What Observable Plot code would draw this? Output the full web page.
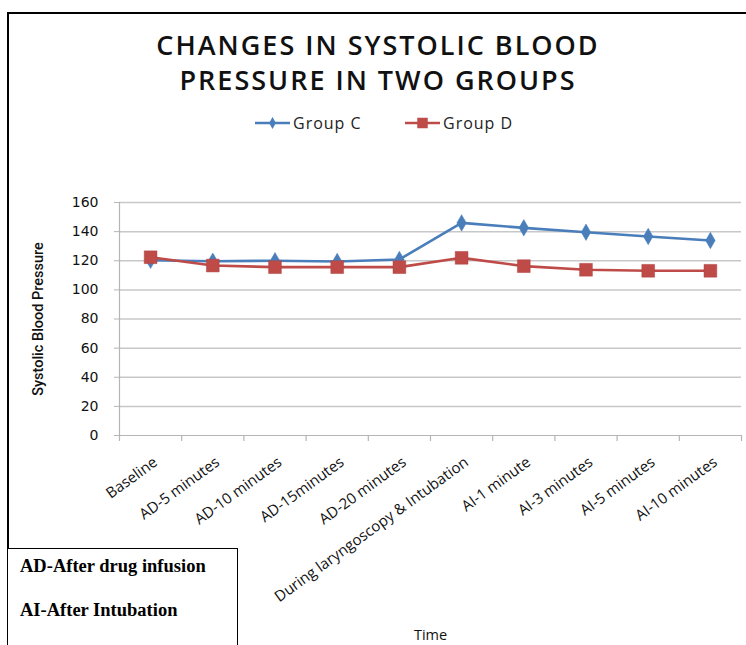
<!DOCTYPE html>
<html>
<head>
<meta charset="utf-8">
<script src="https://cdn.jsdelivr.net/npm/d3@7"></script>
<script src="https://cdn.jsdelivr.net/npm/@observablehq/plot@0.6"></script>
<style>
  html, body { margin: 0; padding: 0; background: #fff; }
  #wrap { position: relative; width: 746px; height: 645px; overflow: hidden; }
  #frame { position: absolute; left: 7px; top: 12px; width: 760px; height: 700px; border: 2px solid #000; box-sizing: border-box; }
  #title { position: absolute; left: 0; width: 756px; top: 27px; text-align: center; font-family: "Open Sans", sans-serif; font-weight: 600; font-size: 27px; line-height: 35px; color: #111; letter-spacing: 2px; }
  #legend { position: absolute; left: 0; top: 112px; width: 746px; }
  #plot { position: absolute; left: 0; top: 0; }
  #note { position: absolute; left: 7px; top: 548px; width: 231px; height: 110px; border: 1.5px solid #000; box-sizing: border-box; background: #fff; font-family: "Liberation Serif", "Times New Roman", serif; font-weight: bold; font-size: 18.5px; color: #000; }
  #note div { position: absolute; left: 12px; white-space: nowrap; }
</style>
</head>
<body>
<div id="wrap">
  <div id="plot"></div>
  <div id="frame"></div>
  <div id="title"><div>CHANGES IN SYSTOLIC BLOOD</div><div>PRESSURE IN TWO GROUPS</div></div>
  <svg id="legend" width="746" height="24"></svg>
  <div id="note"><div style="top:7px">AD-After drug infusion</div><div style="top:51px">AI-After Intubation</div></div>
</div>
<script>
const categories = ["Baseline", "AD-5 minutes", "AD-10 minutes", "AD-15minutes", "AD-20 minutes",
  "During laryngoscopy & Intubation", "AI-1 minute", "AI-3 minutes", "AI-5 minutes", "AI-10 minutes"];
const groupC = [120.3, 119.7, 120.0, 119.5, 120.9, 146.0, 142.6, 139.6, 136.7, 133.9];
const groupD = [122.4, 116.7, 115.6, 115.6, 115.6, 122.0, 116.3, 113.8, 113.1, 113.1];
const yTicks = [0, 20, 40, 60, 80, 100, 120, 140, 160];
const seriesNames = ["Group C", "Group D"];
const colors = ["#4A7EBB", "#BE4B48"];

const rows = [];
categories.forEach((c, i) => {
  rows.push({series: seriesNames[0], i: i + 0.5, v: groupC[i]});
  rows.push({series: seriesNames[1], i: i + 0.5, v: groupD[i]});
});
const cRows = rows.filter(d => d.series === seriesNames[0]);
const dRows = rows.filter(d => d.series === seriesNames[1]);
const catPos = categories.map((c, i) => ({c, i: i + 0.5, y0: 0}));

const tickFont = "'DejaVu Sans', sans-serif";

const chart = Plot.plot({
  width: 746,
  height: 645,
  marginTop: 202,
  marginBottom: 210,
  marginLeft: 119,
  marginRight: 5,
  x: {domain: [0, categories.length], axis: null},
  y: {domain: [0, 160], axis: null},
  marks: [
    Plot.ruleY(yTicks.filter(t => t > 0), {stroke: "#c8c8c8", strokeWidth: 1.5}),
    Plot.ruleY([0], {stroke: "#b5b5b5", strokeWidth: 1.2}),
    Plot.ruleX([0], {stroke: "#b5b5b5", strokeWidth: 1.2}),
    Plot.axisX(d3.range(categories.length + 1), {tickSize: 6, tickFormat: () => "", stroke: "#b5b5b5", strokeWidth: 1.2, label: null}),
    Plot.axisY(yTicks, {tickSize: 5, tickPadding: 16, stroke: "#b5b5b5", fontSize: 14, fontFamily: tickFont, fill: "#111", letterSpacing: 2.6, label: null}),
    Plot.line(cRows, {x: "i", y: "v", stroke: colors[0], strokeWidth: 2.6}),
    Plot.line(dRows, {x: "i", y: "v", stroke: colors[1], strokeWidth: 2.6}),
    Plot.dot(cRows, {x: "i", y: "v", symbol: "diamond", r: 5, fill: colors[0], stroke: colors[0], strokeWidth: 0.5}),
    Plot.dot(dRows, {x: "i", y: "v", symbol: "square", r: 7.2, fill: colors[1], stroke: "#b04340", strokeWidth: 0.5}),
    Plot.text(catPos, {x: "i", y: "y0", text: "c", dx: 5, dy: 25, rotate: -36, textAnchor: "end", fontSize: 15, letterSpacing: 0.6, fontFamily: "'Open Sans', sans-serif", fill: "#111"}),
    Plot.text([{t: "Systolic Blood Pressure", x: 0, y: 80}], {x: "x", y: "y", text: "t", dx: -81, rotate: -90, fontSize: 14.5, fontFamily: "'Liberation Sans Narrow', 'Roboto', sans-serif", fontWeight: 500, fill: "#111"}),
    Plot.text([{t: "Time", x: 5, y: 0}], {x: "x", y: "y", text: "t", dy: 200, fontSize: 14.5, fontFamily: "'Open Sans', sans-serif", fill: "#111"})
  ]
});
chart.style.overflow = "visible";
document.getElementById("plot").appendChild(chart);

// Legend
const lg = d3.select("#legend");
const items = [
  {name: seriesNames[0], color: colors[0], x0: 255, sym: "diamond"},
  {name: seriesNames[1], color: colors[1], x0: 405, sym: "square"}
];
items.forEach(it => {
  lg.append("line").attr("x1", it.x0).attr("x2", it.x0 + 35).attr("y1", 11).attr("y2", 11)
    .attr("stroke", it.color).attr("stroke-width", 2.6);
  const s = it.sym === "diamond" ? d3.symbol(d3.symbolDiamond, 40) : d3.symbol(d3.symbolSquare, 110);
  lg.append("path").attr("d", s()).attr("transform", `translate(${it.x0 + 17.5},11)`).attr("fill", it.color);
  lg.append("text").attr("x", it.x0 + 38).attr("y", 16.5).text(it.name)
    .attr("font-family", "'Open Sans', sans-serif").attr("font-size", 16).attr("letter-spacing", 1).attr("fill", "#222");
});
</script>
</body>
</html>
